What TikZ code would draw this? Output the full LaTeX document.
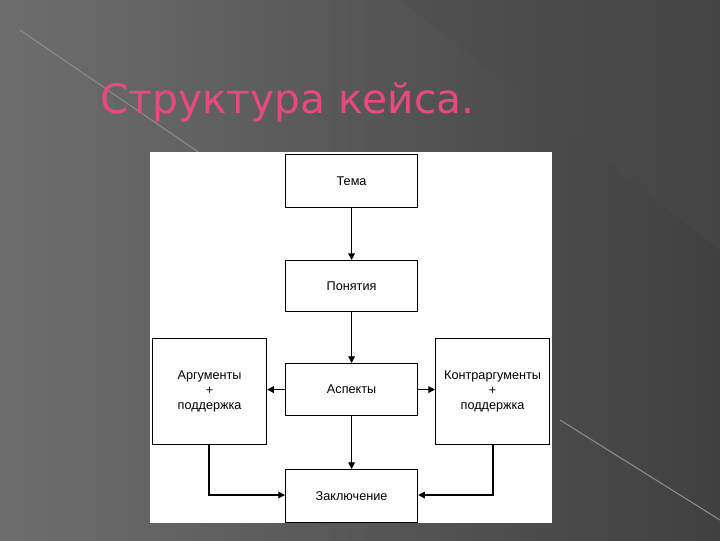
\documentclass[tikz,border=0pt]{standalone}
\usepackage{fontspec}
\setmainfont{Liberation Sans}
\newfontfamily\titlefont{DejaVu Sans}
\usetikzlibrary{arrows.meta}
\definecolor{pinkt}{HTML}{E84A7F}
\tikzset{
 bx/.style={draw=black,line width=0.9pt,fill=white,anchor=north west,inner sep=0pt,align=center,font=\fontsize{9.5}{11.5}\selectfont},
 con/.style={draw=black,line width=0.9pt,-{Triangle[length=5pt,width=5pt]}}
}
\begin{document}
\begin{tikzpicture}[x=0.75pt,y=-0.75pt]
\useasboundingbox (0,0) rectangle (720,540);
\shade[shading angle=-40,left color=black!52,right color=black!80] (-200,-200) rectangle (920,740);
\fill[black!70,opacity=0.4] (400,0) -- (720,0) -- (720,250) -- cycle;
\draw[black!45,line width=0.8pt] (20,30) -- (210,160);
\draw[black!45,line width=0.8pt] (560,420) -- (720,520);
\node[anchor=base west,text=pinkt,font=\titlefont\fontsize{30.5}{34}\selectfont,inner sep=0pt] (title) at (100,113) {Структура кейса.};
\fill[white] (150,152) rectangle (552,523);
\node[bx,minimum width=99pt,minimum height=39.75pt] (tema) at (285,154) {Тема};
\node[bx,minimum width=99pt,minimum height=38.25pt] (pon) at (285,260) {Понятия};
\node[bx,minimum width=99pt,minimum height=39pt] (asp) at (285,363) {Аспекты};
\node[bx,minimum width=99pt,minimum height=39.75pt] (zak) at (285,469) {Заключение};
\node[bx,minimum width=85.5pt,minimum height=79.5pt] (arg) at (152,338) {Аргументы\\+\\поддержка};
\node[bx,minimum width=85.5pt,minimum height=79.5pt] (carg) at (435,338) {Контраргументы\\+\\поддержка};
\draw[con] (tema) -- (pon);
\draw[con] (pon) -- (asp);
\draw[con] (asp) -- (zak);
\draw[con] (asp) -- (arg.east |- asp);
\draw[con] (asp) -- (carg.west |- asp);
\coordinate (lb) at (209,495);
\coordinate (rb) at (493,495);
\draw[con] (arg.south -| lb) -- (lb) -- (zak.west |- lb);
\draw[con] (carg.south -| rb) -- (rb) -- (zak.east |- rb);
\end{tikzpicture}
\end{document}
